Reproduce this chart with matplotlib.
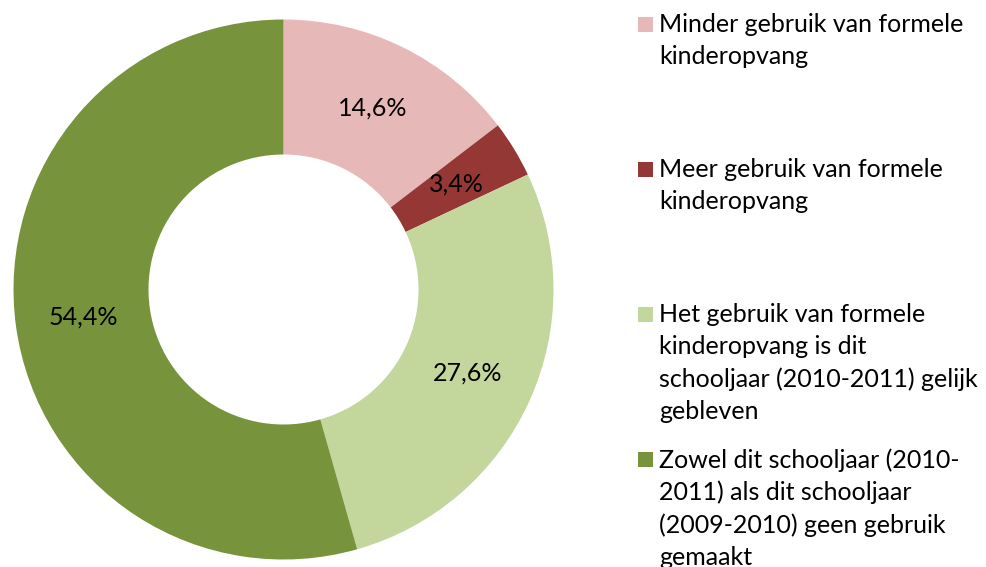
import matplotlib
matplotlib.use("Agg")
import matplotlib.pyplot as plt
from matplotlib.patches import Rectangle

plt.rcParams['font.family'] = ['Lato', 'DejaVu Sans']

# data
labels = [
    "Minder gebruik van formele\nkinderopvang",
    "Meer gebruik van formele\nkinderopvang",
    "Het gebruik van formele\nkinderopvang is dit\nschooljaar (2010-2011) gelijk\ngebleven",
    "Zowel dit schooljaar (2010-\n2011) als dit schooljaar\n(2009-2010) geen gebruik\ngemaakt",
]
values = [14.6, 3.4, 27.6, 54.4]
colors = ['#E6B9B8', '#953735', '#C3D69B', '#77933C']

W, H = 987, 567
fig = plt.figure(figsize=(W / 100, H / 100), dpi=100)
ax = fig.add_axes([13.5 / W, 7.5 / H, 540 / W, 540 / H])

fs = 18
wedges, texts, autotexts = ax.pie(
    values, colors=colors, startangle=90, counterclock=False,
    radius=1, pctdistance=0.75,
    autopct=lambda p: f"{p:.1f}%".replace(".", ","),
    wedgeprops=dict(width=0.5, linewidth=0),
    textprops=dict(fontsize=fs, color='black'),
)
ax.set_xlim(-1, 1)
ax.set_ylim(-1, 1)
ax.set_aspect('equal')
ax.axis('off')

# legend, placed by hand like the original
tops = [17, 162, 307, 452]  # pixel y of each square top
for lab, col, top in zip(labels, colors, tops):
    fig.patches.append(Rectangle((638 / W, 1 - (top + 15) / H), 15 / W, 15 / H,
                                 transform=fig.transFigure, facecolor=col,
                                 edgecolor='none'))
    fig.text(659 / W, 1 - (top - 4) / H, lab, fontsize=fs, va='top', ha='left',
             linespacing=1.47, color='black')

fig.savefig("out.png", dpi=100)
